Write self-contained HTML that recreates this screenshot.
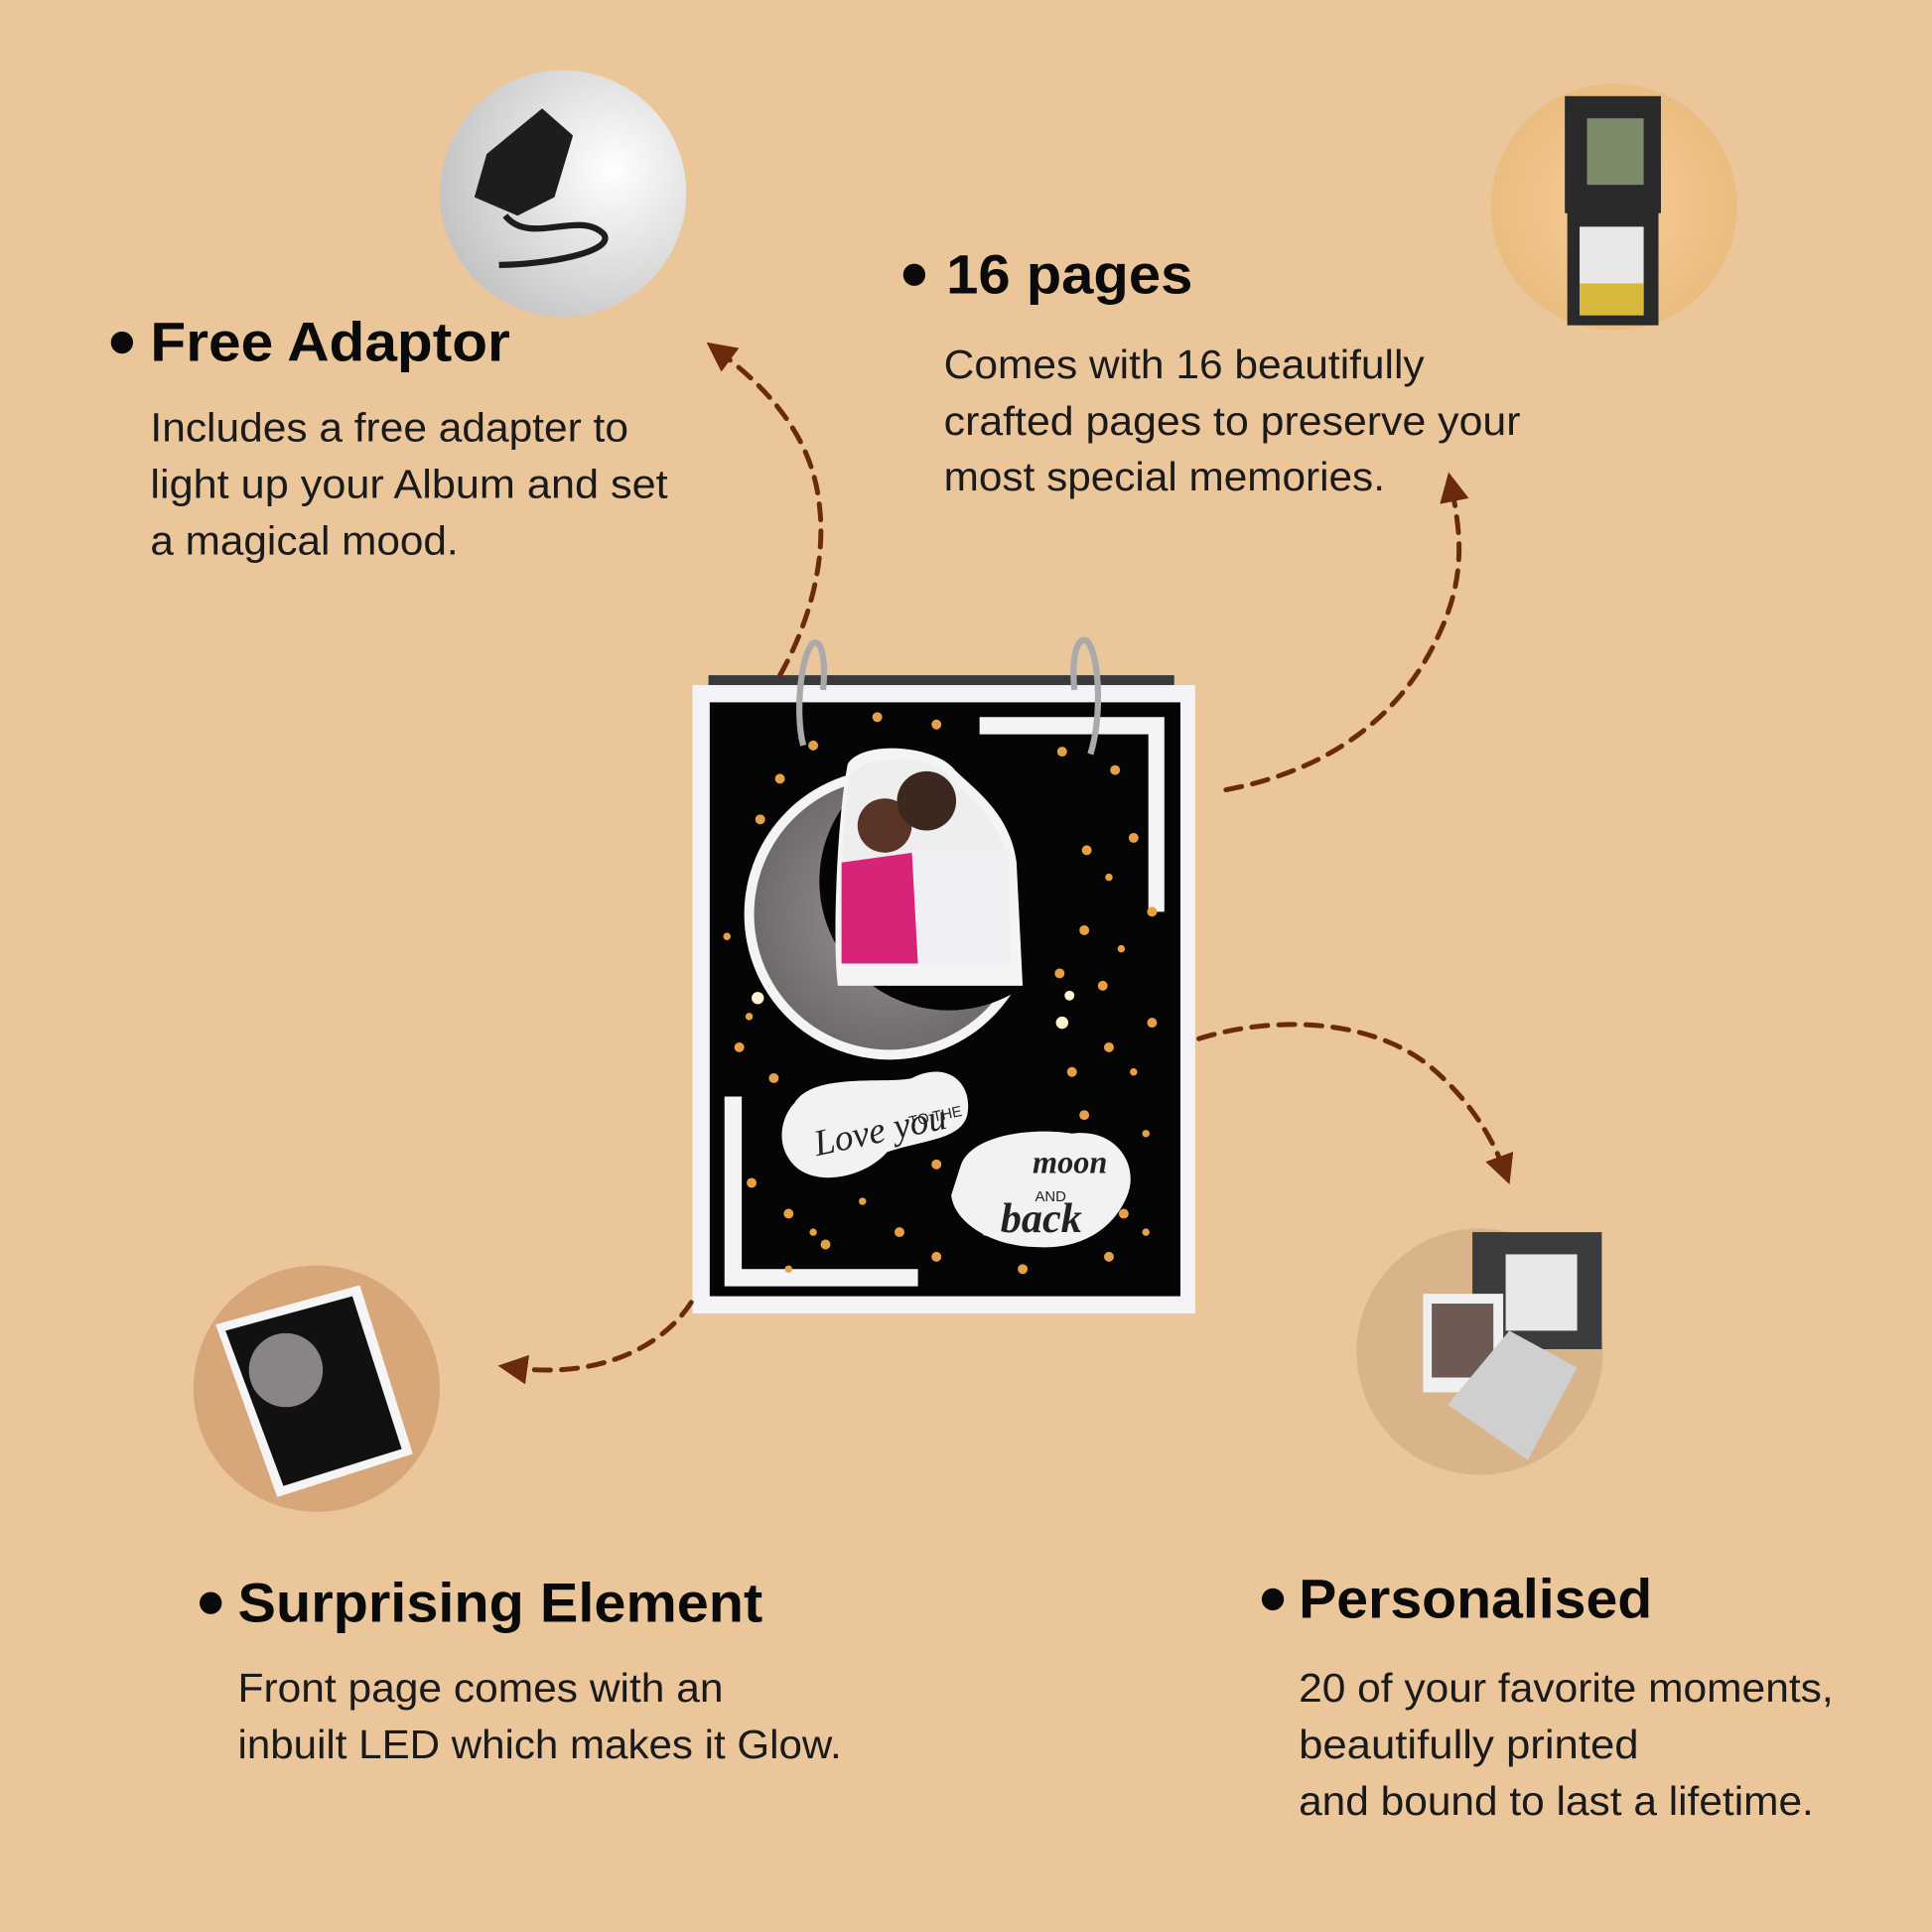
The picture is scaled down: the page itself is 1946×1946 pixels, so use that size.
<!DOCTYPE html>
<html><head><meta charset="utf-8"><style>
html,body{margin:0;padding:0;background:#EAC69A;}
svg{display:block}
.h{font-family:"Liberation Sans",sans-serif;font-weight:bold;fill:#0a0a0a;font-size:45px}
.b{font-family:"Liberation Sans",sans-serif;fill:#1a1a1a;font-size:33px}
.arr{fill:none;stroke:#6a2a0e;stroke-width:4;stroke-dasharray:13 9;stroke-linecap:round}
</style></head><body>
<svg width="1946" height="1946" viewBox="0 0 1568 1568" xmlns="http://www.w3.org/2000/svg">
<defs>
<radialGradient id="g1" cx="0.7" cy="0.4" r="0.8"><stop offset="0" stop-color="#ffffff"/><stop offset="1" stop-color="#bdbdbd"/></radialGradient>
<radialGradient id="g2" cx="0.5" cy="0.5" r="0.6"><stop offset="0" stop-color="#f6cd95"/><stop offset="1" stop-color="#e9b97c"/></radialGradient>
<radialGradient id="moon" cx="0.5" cy="0.5" r="0.5"><stop offset="0" stop-color="#9a9595"/><stop offset="1" stop-color="#6f6b6b"/></radialGradient>
<marker id="ah" viewBox="0 0 10 10" refX="5" refY="5" markerWidth="6" markerHeight="6" orient="auto-start-reverse"><path d="M0,0 L10,5 L0,10 z" fill="#6a2a0e"/></marker>
</defs>
<rect width="1568" height="1568" fill="#EAC69A"/>

<circle cx="457" cy="157" r="100" fill="url(#g1)"/>
<path d="M395,125 L440,88 L465,110 L450,160 L420,175 L385,160 Z" fill="#1d1d1d"/>
<path d="M410,175 C430,200 470,170 490,190 C500,205 440,215 405,215" fill="none" stroke="#1d1d1d" stroke-width="5"/>
<circle cx="1310" cy="168" r="100" fill="url(#g2)"/>
<rect x="1270" y="78" width="78" height="95" fill="#2a2a2a"/>
<rect x="1288" y="96" width="46" height="54" fill="#7c8a6a"/>
<rect x="1272" y="172" width="74" height="92" fill="#2a2a2a"/>
<rect x="1282" y="184" width="52" height="70" fill="#e8e8e8"/>
<rect x="1282" y="230" width="52" height="26" fill="#d8b83a"/>
<circle cx="257" cy="1127" r="100" fill="#d7a77a"/>
<polygon points="175,1075 292,1043 335,1180 225,1215" fill="#f5f5f5"/>
<polygon points="183,1080 286,1052 326,1176 230,1206" fill="#111"/>
<circle cx="232" cy="1112" r="30" fill="#8a8585"/>
<circle cx="1201" cy="1097" r="100" fill="#d9b48a"/>
<rect x="1195" y="1000" width="105" height="95" fill="#3a3c3e"/>
<rect x="1222" y="1018" width="58" height="62" fill="#e8e8e8"/>
<rect x="1155" y="1050" width="65" height="80" fill="#f0f0f0"/>
<rect x="1162" y="1058" width="50" height="60" fill="#6d5a52"/>
<polygon points="1175,1140 1225,1080 1280,1110 1240,1185" fill="#cfcfcf"/>

<rect x="575" y="548" width="378" height="12" fill="#3a3a3a"/>
<rect x="562" y="556" width="408" height="510" fill="#f4f4f8"/>
<rect x="576" y="570" width="382" height="482" fill="#050505"/>
<path d="M795,582 L945,582 L945,740 L932,740 L932,596 L795,596 Z" fill="#f4f4f4"/>
<path d="M588,890 L602,890 L602,1030 L745,1030 L745,1044 L588,1044 Z" fill="#f4f4f4"/>
<g fill="#e8a047">
<circle cx="633" cy="632" r="4"/><circle cx="712" cy="582" r="4"/><circle cx="760" cy="588" r="4"/><circle cx="660" cy="605" r="4"/><circle cx="862" cy="610" r="4"/><circle cx="905" cy="625" r="4"/><circle cx="812" cy="628" r="3"/><circle cx="617" cy="665" r="4"/><circle cx="882" cy="690" r="4"/><circle cx="920" cy="680" r="4"/><circle cx="850" cy="660" r="3"/><circle cx="900" cy="712" r="3"/><circle cx="935" cy="740" r="4"/><circle cx="880" cy="755" r="4"/><circle cx="910" cy="770" r="3"/><circle cx="860" cy="790" r="4"/><circle cx="895" cy="800" r="4"/><circle cx="935" cy="830" r="4"/><circle cx="900" cy="850" r="4"/><circle cx="870" cy="870" r="4"/><circle cx="920" cy="870" r="3"/><circle cx="880" cy="905" r="4"/><circle cx="930" cy="920" r="3"/><circle cx="600" cy="850" r="4"/><circle cx="628" cy="875" r="4"/><circle cx="610" cy="960" r="4"/><circle cx="640" cy="985" r="4"/><circle cx="670" cy="1010" r="4"/><circle cx="700" cy="975" r="3"/><circle cx="730" cy="1000" r="4"/><circle cx="760" cy="1020" r="4"/><circle cx="800" cy="1000" r="3"/><circle cx="830" cy="1030" r="4"/><circle cx="900" cy="1020" r="4"/><circle cx="930" cy="1000" r="3"/><circle cx="640" cy="1030" r="3"/><circle cx="700" cy="940" r="3"/><circle cx="760" cy="945" r="4"/><circle cx="590" cy="760" r="3"/><circle cx="615" cy="730" r="3"/><circle cx="608" cy="825" r="3"/><circle cx="660" cy="1000" r="3"/><circle cx="912" cy="985" r="4"/>
</g>
<g fill="#fff3d0"><circle cx="862" cy="830" r="5"/><circle cx="615" cy="810" r="5"/><circle cx="868" cy="808" r="4"/></g>
<circle cx="722" cy="742" r="118" fill="#f4f4f4"/>
<circle cx="722" cy="742" r="110" fill="url(#moon)"/>
<circle cx="770" cy="715" r="105" fill="#050505"/>
<path d="M688,620 C700,600 760,605 775,625 C790,640 820,660 825,700 L830,800 L680,800 C675,760 680,660 688,620 Z" fill="#f4f4f4"/>
<path d="M690,628 C705,612 755,612 770,630 C795,655 815,670 818,705 L820,782 L682,782 C680,740 684,660 690,628 Z" fill="#eeeeee"/>
<path d="M683,700 L755,690 L750,782 L683,782 Z" fill="#d82476"/>
<path d="M740,690 L818,690 L818,782 L745,782 Z" fill="#f0eff4"/>
<circle cx="718" cy="670" r="22" fill="#5a3426"/>
<circle cx="752" cy="650" r="24" fill="#3d2820"/>
<path d="M645,895 C660,870 720,880 740,875 C770,860 790,880 785,905 C780,925 750,925 720,935 C700,958 655,965 640,940 C630,925 635,905 645,895 Z" fill="#f2f2f2"/>
<text x="660" y="930" font-family="Liberation Serif,serif" font-style="italic" font-size="30" fill="#222" transform="rotate(-12 700 920)">Love you</text>
<text x="738" y="912" font-family="Liberation Sans,sans-serif" font-size="12" fill="#222" transform="rotate(-12 750 910)">TO THE</text>
<path d="M780,945 C790,920 840,915 870,920 C905,915 925,945 915,970 C905,995 880,1015 840,1012 C810,1012 775,995 772,970 Z" fill="#f2f2f2"/>
<text x="838" y="952" font-family="Liberation Serif,serif" font-style="italic" font-weight="bold" font-size="26" fill="#222">moon</text>
<text x="840" y="975" font-family="Liberation Sans,sans-serif" font-size="12" fill="#222">AND</text>
<text x="812" y="1000" font-family="Liberation Serif,serif" font-style="italic" font-weight="bold" font-size="34" fill="#222">back</text>
<path d="M652,605 C645,580 650,530 660,522 C668,518 670,540 668,560" fill="none" stroke="#aaa" stroke-width="5"/>
<path d="M885,612 C895,580 892,530 882,520 C872,516 870,540 872,560" fill="none" stroke="#aaa" stroke-width="5"/>

<path class="arr" d="M633,548 C660,500 670,450 665,410 C660,360 630,320 583,285" marker-end="url(#ah)"/>
<path class="arr" d="M995,641 C1080,625 1140,580 1170,510 C1190,465 1185,430 1178,395" marker-end="url(#ah)"/>
<path class="arr" d="M973,843 C1030,825 1110,825 1160,865 C1190,890 1210,920 1221,950" marker-end="url(#ah)"/>
<path class="arr" d="M561,1057 C540,1090 490,1120 416,1110" marker-end="url(#ah)"/>

<circle cx="99" cy="278" r="9" fill="#0a0a0a"/>
<text class="h" x="122" y="293" textLength="292" lengthAdjust="spacingAndGlyphs">Free Adaptor</text>
<text class="b" x="122" y="358" textLength="388" lengthAdjust="spacingAndGlyphs">Includes a free adapter to</text>
<text class="b" x="122" y="404" textLength="420" lengthAdjust="spacingAndGlyphs">light up your Album and set</text>
<text class="b" x="122" y="450" textLength="250" lengthAdjust="spacingAndGlyphs">a magical mood.</text>

<circle cx="742" cy="223" r="9" fill="#0a0a0a"/>
<text class="h" x="768" y="238" textLength="200" lengthAdjust="spacingAndGlyphs">16 pages</text>
<text class="b" x="766" y="307" textLength="390" lengthAdjust="spacingAndGlyphs">Comes with 16 beautifully</text>
<text class="b" x="766" y="353" textLength="468" lengthAdjust="spacingAndGlyphs">crafted pages to preserve your</text>
<text class="b" x="766" y="398" textLength="358" lengthAdjust="spacingAndGlyphs">most special memories.</text>

<circle cx="171" cy="1301" r="9" fill="#0a0a0a"/>
<text class="h" x="193" y="1316" textLength="426" lengthAdjust="spacingAndGlyphs">Surprising Element</text>
<text class="b" x="193" y="1381" textLength="394" lengthAdjust="spacingAndGlyphs">Front page comes with an</text>
<text class="b" x="193" y="1427" textLength="490" lengthAdjust="spacingAndGlyphs">inbuilt LED which makes it Glow.</text>

<circle cx="1033" cy="1298" r="9" fill="#0a0a0a"/>
<text class="h" x="1054" y="1313" textLength="287" lengthAdjust="spacingAndGlyphs">Personalised</text>
<text class="b" x="1054" y="1381" textLength="434" lengthAdjust="spacingAndGlyphs">20 of your favorite moments,</text>
<text class="b" x="1054" y="1427" textLength="276" lengthAdjust="spacingAndGlyphs">beautifully printed</text>
<text class="b" x="1054" y="1473" textLength="418" lengthAdjust="spacingAndGlyphs">and bound to last a lifetime.</text>
</svg>
</body></html>
